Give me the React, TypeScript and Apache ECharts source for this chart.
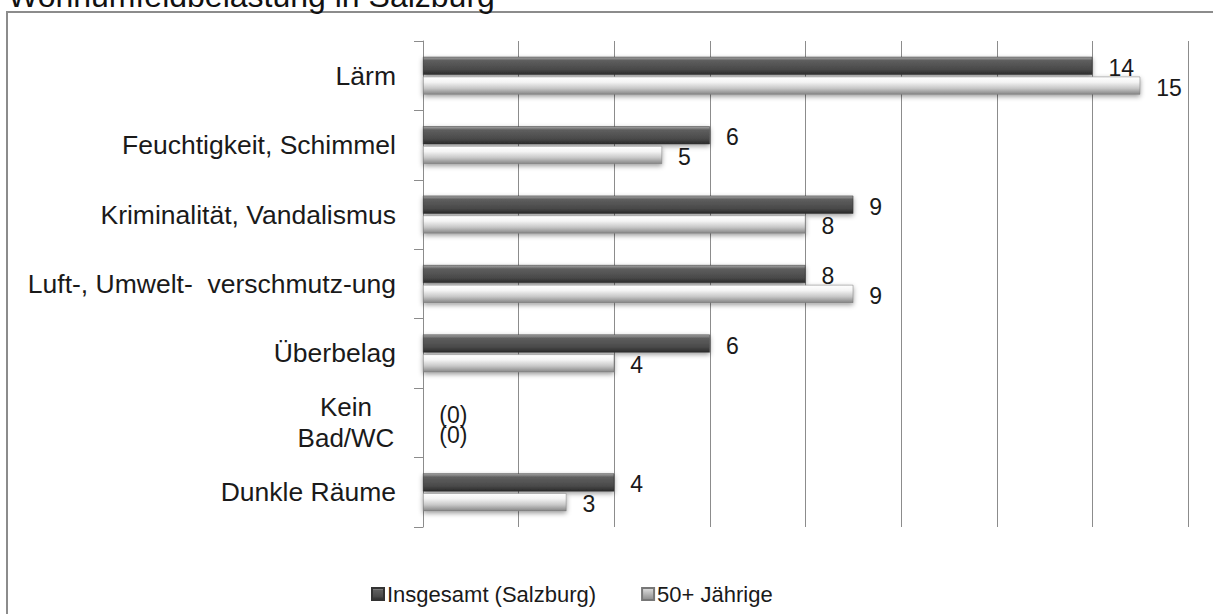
import React, { useEffect, useRef } from "react";
import * as echarts from "echarts";

const titleText = "Wohnumfeldbelastung in Salzburg";
const categories = [
  "Lärm",
  "Feuchtigkeit, Schimmel",
  "Kriminalität, Vandalismus",
  "Luft-, Umwelt-  verschmutz-ung",
  "Überbelag",
  "Kein Bad/WC",
  "Dunkle Räume",
];
const seriesNames = ["Insgesamt (Salzburg)", "50+ Jährige"];
const insgesamt = [14, 6, 9, 8, 6, 0, 4];
const jaehrige50 = [15, 5, 8, 9, 4, 0, 3];
const xTicks = [0, 2, 4, 6, 8, 10, 12, 14, 16];

const FONT = "'Liberation Sans', Arial, Helvetica, sans-serif";

export default function App() {
  const ref = useRef<HTMLDivElement>(null);
  useEffect(() => {
    if (!ref.current) return;
    const chart = echarts.init(ref.current, null, { renderer: "svg" });
    const darkGrad = new echarts.graphic.LinearGradient(0, 0, 0, 1, [
      { offset: 0, color: "#a8a8a8" },
      { offset: 0.2, color: "#5e5e5e" },
      { offset: 0.7, color: "#4a4a4a" },
      { offset: 1, color: "#2a2a2a" },
    ]);
    const lightGrad = new echarts.graphic.LinearGradient(0, 0, 0, 1, [
      { offset: 0, color: "#ffffff" },
      { offset: 0.3, color: "#f4f4f4" },
      { offset: 0.65, color: "#c8c8c8" },
      { offset: 1, color: "#858585" },
    ]);
    const legendLight = new echarts.graphic.LinearGradient(0, 0, 0, 1, [
      { offset: 0, color: "#e0e0e0" },
      { offset: 1, color: "#8a8a8a" },
    ]);
    const labelCfg = {
      show: true,
      position: "right",
      distance: 16,
      offset: [0, 2],
      fontFamily: FONT,
      fontSize: 23,
      color: "#1a1a1a",
      formatter: (p: any) => (p.value === 0 ? "(0)" : String(p.value)),
    };
    chart.setOption({
      animation: false,
      textStyle: { fontFamily: FONT },
      graphic: [
        {
          type: "rect",
          shape: { x: 7, y: 12, width: 1400, height: 800 },
          style: { fill: "none", stroke: "#8c8c8c", lineWidth: 2 },
          silent: true,
        },
        {
          type: "text",
          x: 8,
          y: 12,
          style: {
            text: titleText,
            fontFamily: FONT,
            fontSize: 32,
            fill: "#111",
            verticalAlign: "bottom",
            align: "left",
          },
        },
      ],
      legend: {
        left: 366,
        top: 578,
        itemWidth: 12,
        itemHeight: 12,
        itemGap: 45,
        icon: "rect",
        textStyle: { fontFamily: FONT, fontSize: 22, color: "#1a1a1a", padding: [0, 0, 0, -2] },
        data: [
          { name: seriesNames[0] },
          { name: seriesNames[1], itemStyle: { color: legendLight } },
        ],
      },
      grid: { left: 423, right: 25, top: 41, bottom: 87, containLabel: false },
      xAxis: {
        type: "value",
        min: xTicks[0],
        max: xTicks[xTicks.length - 1],
        interval: 2,
        axisLabel: { show: false },
        axisLine: { show: false },
        axisTick: { show: false },
        splitLine: { show: true, lineStyle: { color: "#8c8c8c", width: 1 } },
      },
      yAxis: {
        type: "category",
        inverse: true,
        data: categories,
        axisLine: { show: true, lineStyle: { color: "#8c8c8c", width: 1 } },
        axisTick: { show: true, length: 9, lineStyle: { color: "#8c8c8c" } },
        axisLabel: {
          margin: 27,
          fontFamily: FONT,
          fontSize: 26.5,
          color: "#1a1a1a",
          formatter: (v: string) =>
            v === "Kein Bad/WC" ? "{c|Kein}\n{c|Bad/WC}" : v,
          rich: {
            c: {
              width: 100,
              align: "center",
              fontFamily: FONT,
              fontSize: 26,
              lineHeight: 31,
              color: "#1a1a1a",
            },
          },
        },
      },
      series: [
        {
          name: seriesNames[0],
          type: "bar",
          data: insgesamt,
          barWidth: 18,
          barGap: "10%",
          itemStyle: {
            color: darkGrad,
            borderColor: "#333",
            borderWidth: 0.5,
            shadowBlur: 5,
            shadowColor: "rgba(0,0,0,0.4)",
            shadowOffsetY: 2,
          },
          label: labelCfg,
        },
        {
          name: seriesNames[1],
          type: "bar",
          data: jaehrige50,
          barWidth: 18,
          itemStyle: {
            color: lightGrad,
            borderColor: "#777",
            borderWidth: 0.5,
            shadowBlur: 5,
            shadowColor: "rgba(0,0,0,0.4)",
            shadowOffsetY: 2,
          },
          label: labelCfg,
        },
      ],
    });
    return () => chart.dispose();
  }, []);
  return (
    <div
      ref={ref}
      style={{ position: "absolute", left: 0, top: 0, width: 1213, height: 614, background: "#fff" }}
    />
  );
}
